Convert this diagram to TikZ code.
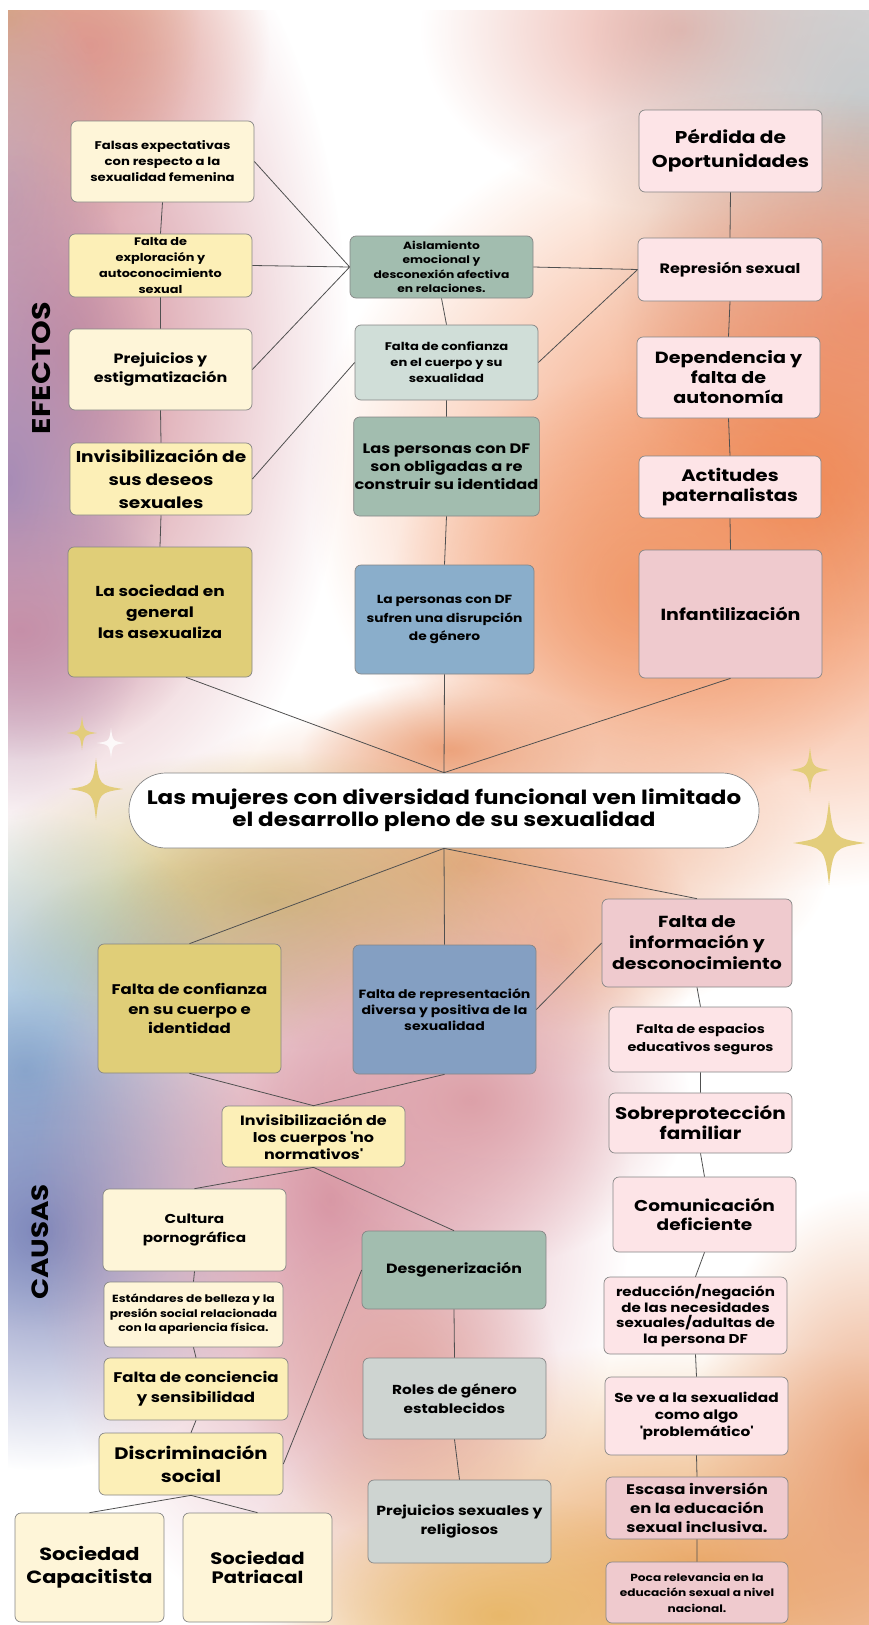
\documentclass[tikz,border=0pt]{standalone}
\usepackage{fontspec}
\setmainfont{Poppins}[FakeStretch=1.18]
\usetikzlibrary{fadings}
\definecolor{cream}{HTML}{FEF5D8}
\definecolor{butter}{HTML}{FCEFB7}
\definecolor{mustard}{HTML}{E0CE78}
\definecolor{sage}{HTML}{A2BDAF}
\definecolor{mint}{HTML}{D0DED8}
\definecolor{steel}{HTML}{8AAECB}
\definecolor{denim}{HTML}{849FC2}
\definecolor{blush}{HTML}{FDE4E7}
\definecolor{rose}{HTML}{EFCACE}
\definecolor{ash}{HTML}{CED4D1}
\definecolor{gold}{HTML}{E3CD7B}
\definecolor{edge}{HTML}{858585}
\definecolor{wire}{HTML}{505050}
\newcommand\boxfont[2]{\fontsize{#1}{#2}\selectfont\bfseries}
\tikzfading[name=softblob, inner color=transparent!0, outer color=transparent!100]
\tikzset{sparkle/.pic={\fill (0,-1) .. controls (.12,-.12) .. (1,0) .. controls (.12,.12) .. (0,1) .. controls (-.12,.12) .. (-1,0) .. controls (-.12,-.12) .. (0,-1);}}

\begin{document}
\begin{tikzpicture}[x=1pt,y=-1pt,
  box/.style={draw=edge,line width=.7pt,rounded corners=6pt,align=center,inner sep=1pt},
  sz/.style 2 args={minimum width=#1pt,minimum height=#2pt},
  link/.style={draw=wire,line width=.8pt},
  blob/.style={path fading=softblob}]
\useasboundingbox (0,0) rectangle (869,1625);
\begin{scope}
\clip (8,10) rectangle (869,1625);
\fill[blob,color={rgb,255:red,210;green,178;blue,92}] (10,20) ellipse [x radius=190pt,y radius=230pt];
\fill[blob,color={rgb,255:red,230;green,161;blue,139}] (90,45) ellipse [x radius=180pt,y radius=180pt];
\fill[blob,color={rgb,255:red,188;green,197;blue,213}] (10,200) ellipse [x radius=110pt,y radius=220pt];
\fill[blob,color={rgb,255:red,210;green,140;blue,152}] (70,360) ellipse [x radius=280pt,y radius=520pt];
\fill[blob,color={rgb,255:red,168;green,140;blue,182}] (10,480) ellipse [x radius=160pt,y radius=340pt];
\fill[blob,color={rgb,255:red,198;green,144;blue,168}] (20,630) ellipse [x radius=180pt,y radius=130pt];
\fill[blob,color={rgb,255:red,234;green,176;blue,166}] (680,30) ellipse [x radius=260pt,y radius=180pt];
\fill[blob,color={rgb,255:red,195;green,200;blue,202}] (865,140) ellipse [x radius=280pt,y radius=500pt];
\fill[blob,color={rgb,255:red,233;green,167;blue,155}] (860,320) ellipse [x radius=240pt,y radius=220pt];
\fill[blob,color={rgb,255:red,240;green,133;blue,80}] (790,490) ellipse [x radius=480pt,y radius=400pt];
\fill[blob,color={rgb,255:red,241;green,153;blue,106}] (650,590) ellipse [x radius=260pt,y radius=220pt];
\fill[blob,color={rgb,255:red,236;green,163;blue,124}] (450,750) ellipse [x radius=150pt,y radius=70pt];
\fill[blob,color={rgb,255:red,236;green,163;blue,124}] (470,865) ellipse [x radius=360pt,y radius=170pt];
\fill[blob,color={rgb,255:red,205;green,191;blue,106}] (270,900) ellipse [x radius=320pt,y radius=150pt];
\fill[blob,color={rgb,255:red,199;green,201;blue,138}] (180,960) ellipse [x radius=180pt,y radius=100pt];
\fill[blob,color={rgb,255:red,237;green,180;blue,154}] (560,940) ellipse [x radius=140pt,y radius=140pt];
\fill[blob,color={rgb,255:red,143;green,180;blue,212}] (25,1070) ellipse [x radius=230pt,y radius=260pt];
\fill[blob,color={rgb,255:red,126;green,135;blue,187}] (40,1230) ellipse [x radius=240pt,y radius=240pt];
\fill[blob,color={rgb,255:red,216;green,151;blue,165}] (330,1200) ellipse [x radius=300pt,y radius=440pt];
\fill[blob,color={rgb,255:red,221;green,161;blue,169}] (470,1100) ellipse [x radius=220pt,y radius=170pt];
\fill[blob,color={rgb,255:red,225;green,167;blue,162}] (400,1380) ellipse [x radius=160pt,y radius=160pt];
\fill[blob,color={rgb,255:red,233;green,163;blue,95}] (700,1580) ellipse [x radius=460pt,y radius=240pt];
\fill[blob,color={rgb,255:red,232;green,184;blue,107}] (500,1615) ellipse [x radius=220pt,y radius=120pt];
\fill[blob,color={rgb,255:red,232;green,159;blue,116}] (869,1470) ellipse [x radius=180pt,y radius=280pt];
\end{scope}

\node[rotate=90,font=\boxfont{25.6}{25}] (efectos) at (41,368) {EFECTOS};
\node[rotate=90,font=\boxfont{23.5}{25}] (causas) at (40,1242) {CAUSAS};

\node[box,fill=cream,sz={183}{81},font=\boxfont{11.2}{16}] (fexp) at (162.5,161.5) {Falsas expectativas\\con respecto a la\\sexualidad femenina};
\node[box,fill=butter,sz={183}{63},font=\boxfont{10.9}{15.7}] (fexpl) at (160.5,265.5) {Falta de\\exploración y\\autoconocimiento\\sexual};
\node[box,fill=cream,sz={183}{81},font=\boxfont{13.5}{19}] (prej) at (160.5,369.5) {Prejuicios y\\estigmatización};
\node[box,fill=butter,sz={182}{72},font=\boxfont{15.7}{23}] (invd) at (161,479) {Invisibilización de\\sus deseos\\sexuales};
\node[box,fill=mustard,sz={184}{130},font=\boxfont{14.4}{21}] (socasx) at (160,612) {La sociedad en\\general\\las asexualiza};

\node[box,fill=sage,sz={183}{62},font=\boxfont{10.4}{14.5}] (aisl) at (441.5,267) {Aislamiento\\emocional y\\desconexión afectiva\\en relaciones.};
\node[box,fill=mint,sz={183}{75},font=\boxfont{11.1}{16}] (fconf) at (446.5,362.5) {Falta de confianza\\en el cuerpo y su\\sexualidad};
\node[box,fill=sage,sz={183}{99},font=\boxfont{13.7}{18}] (reconst) at (446.5,466.5) {Las personas con DF\\son obligadas a re\\construir su identidad};
\node[box,fill=steel,sz={179}{109},font=\boxfont{11.7}{18.5}] (disrup) at (444.5,619.5) {La personas con DF\\sufren una disrupción\\de género};

\node[box,fill=blush,sz={183}{82},font=\boxfont{17.1}{24}] (perd) at (730.5,151) {Pérdida de\\Oportunidades};
\node[box,fill=blush,sz={184}{63},font=\boxfont{13.6}{16}] (repr) at (730,269.5) {Represión sexual};
\node[box,fill=blush,sz={183}{81},font=\boxfont{16.2}{20}] (depen) at (728.5,377.5) {Dependencia y\\falta de\\autonomía};
\node[box,fill=blush,sz={182}{62},font=\boxfont{16.6}{20}] (patern) at (730,487) {Actitudes\\paternalistas};
\node[box,fill=rose,sz={183}{128},font=\boxfont{16.1}{20}] (infant) at (730.5,614) {Infantilización};

\node[box,fill=white,rounded corners=37pt,sz={630}{75},font=\boxfont{19.5}{22}] (mujeres) at (444,810.5) {Las mujeres con diversidad funcional ven limitado\\el desarrollo pleno de su sexualidad};

\node[box,fill=mustard,sz={183}{129},font=\boxfont{14}{19.5}] (fconfid) at (189.5,1008.5) {Falta de confianza\\en su cuerpo e\\identidad};
\node[box,fill=denim,sz={183}{129},font=\boxfont{11.9}{16}] (frep) at (444.5,1009.5) {Falta de representación\\diversa y positiva de la\\sexualidad};
\node[box,fill=rose,sz={190}{88},font=\boxfont{16}{21}] (finfo) at (697,943) {Falta de\\información y\\desconocimiento};
\node[box,fill=butter,sz={183}{61},font=\boxfont{13.5}{17}] (invcuer) at (313.5,1136.5) {Invisibilización de\\los cuerpos \textquotesingle no\\normativos\textquotesingle};
\node[box,fill=blush,sz={183}{65},font=\boxfont{12.2}{17.5}] (espac) at (700.5,1039.5) {Falta de espacios\\educativos seguros};
\node[box,fill=blush,sz={183}{60},font=\boxfont{16.9}{20}] (sobre) at (700.5,1123) {Sobreprotección\\familiar};
\node[box,fill=blush,sz={183}{75},font=\boxfont{15.7}{19}] (comun) at (704.5,1214.5) {Comunicación\\deficiente};
\node[box,fill=cream,sz={183}{82},font=\boxfont{12.9}{19}] (cult) at (194.5,1230) {Cultura\\pornográfica};
\node[box,fill=sage,sz={184}{78},font=\boxfont{13.4}{18}] (desg) at (454,1270) {Desgenerización};
\node[box,fill=cream,sz={179}{65},font=\boxfont{10.4}{14.5}] (estand) at (193.5,1314.5) {Estándares de belleza y la\\presión social relacionada\\con la apariencia física.};
\node[box,fill=blush,sz={183}{77},font=\boxfont{12.8}{15.5}] (reduc) at (695.5,1315.5) {reducción/negación\\de las necesidades\\sexuales/adultas de\\la persona DF};
\node[box,fill=butter,sz={184}{62},font=\boxfont{14}{20}] (conc) at (196,1389) {Falta de conciencia\\y sensibilidad};
\node[box,fill=ash,sz={183}{81},font=\boxfont{13}{19}] (roles) at (454.5,1398.5) {Roles de género\\establecidos};
\node[box,fill=blush,sz={183}{78},font=\boxfont{13}{16.7}] (sevea) at (696.5,1416) {Se ve a la sexualidad\\como algo\\\textquotesingle problemático\textquotesingle};
\node[box,fill=butter,sz={184}{62},font=\boxfont{16.6}{23}] (discr) at (191,1464) {Discriminación\\social};
\node[box,fill=rose,sz={182}{62},font=\boxfont{13.9}{19}] (escasa) at (697,1508) {Escasa inversión\\en la educación\\sexual inclusiva.};
\node[box,fill=ash,sz={183}{83},font=\boxfont{13.2}{19}] (prejsr) at (459.5,1521.5) {Prejuicios sexuales y\\religiosos};
\node[box,fill=cream,sz={149}{109},font=\boxfont{17.7}{23}] (capac) at (89.5,1567.5) {Sociedad\\Capacitista};
\node[box,fill=cream,sz={149}{109},font=\boxfont{16.6}{19}] (patri) at (257.5,1567.5) {Sociedad\\Patriacal};
\node[box,fill=rose,sz={182}{61},font=\boxfont{10.3}{15.5}] (poca) at (697,1592.5) {Poca relevancia en la\\educación sexual a nivel\\nacional.};

\draw[link] (fexp.east) -- (aisl.west) (fexpl.east) -- (aisl.west) (prej.east) -- (aisl.west) (invd.east) -- (fconf.west);
\draw[link] (fexp.south) -- (fexpl.north) (fexpl.south) -- (prej.north) (prej.south) -- (invd.north) (invd.south) -- (socasx.north);
\draw[link] (aisl.east) -- (repr.west) (fconf.east) -- (repr.west);
\draw[link] (aisl.south) -- (fconf.north) (fconf.south) -- (reconst.north) (reconst.south) -- (disrup.north);
\draw[link] (perd.south) -- (repr.north) (repr.south) -- (depen.north) (depen.south) -- (patern.north) (patern.south) -- (infant.north);
\draw[link] ([xshift=26pt]socasx.south) -- (mujeres.north) (disrup.south) -- (mujeres.north) (infant.south) -- (mujeres.north);
\draw[link] (mujeres.south) -- (fconfid.north) (mujeres.south) -- (frep.north) (mujeres.south) -- (finfo.north);
\draw[link] (frep.east) -- (finfo.west) (fconfid.south) -- (invcuer.north) (frep.south) -- (invcuer.north);
\draw[link] (invcuer.south) -- (cult.north) (invcuer.south) -- (desg.north) (discr.east) -- (desg.west);
\draw[link] (cult.south) -- (estand.north) (estand.south) -- (conc.north) (conc.south) -- (discr.north);
\draw[link] (discr.south) -- (capac.north) (discr.south) -- (patri.north);
\draw[link] (desg.south) -- (roles.north) (roles.south) -- (prejsr.north);
\draw[link] (finfo.south) -- (espac.north) (espac.south) -- (sobre.north) (sobre.south) -- (comun.north) (comun.south) -- (reduc.north) (reduc.south) -- (sevea.north) (sevea.south) -- (escasa.north) (escasa.south) -- (poca.north);

\pic[gold,xscale=15,yscale=17] at (82,733) {sparkle};
\pic[white,opacity=.8,xscale=14,yscale=15] at (111,743) {sparkle};
\pic[gold,xscale=27,yscale=31] at (96,789) {sparkle};
\pic[gold,xscale=20,yscale=23] at (810,770) {sparkle};
\pic[gold,xscale=36,yscale=42] at (829,843) {sparkle};
\end{tikzpicture}
\end{document}
